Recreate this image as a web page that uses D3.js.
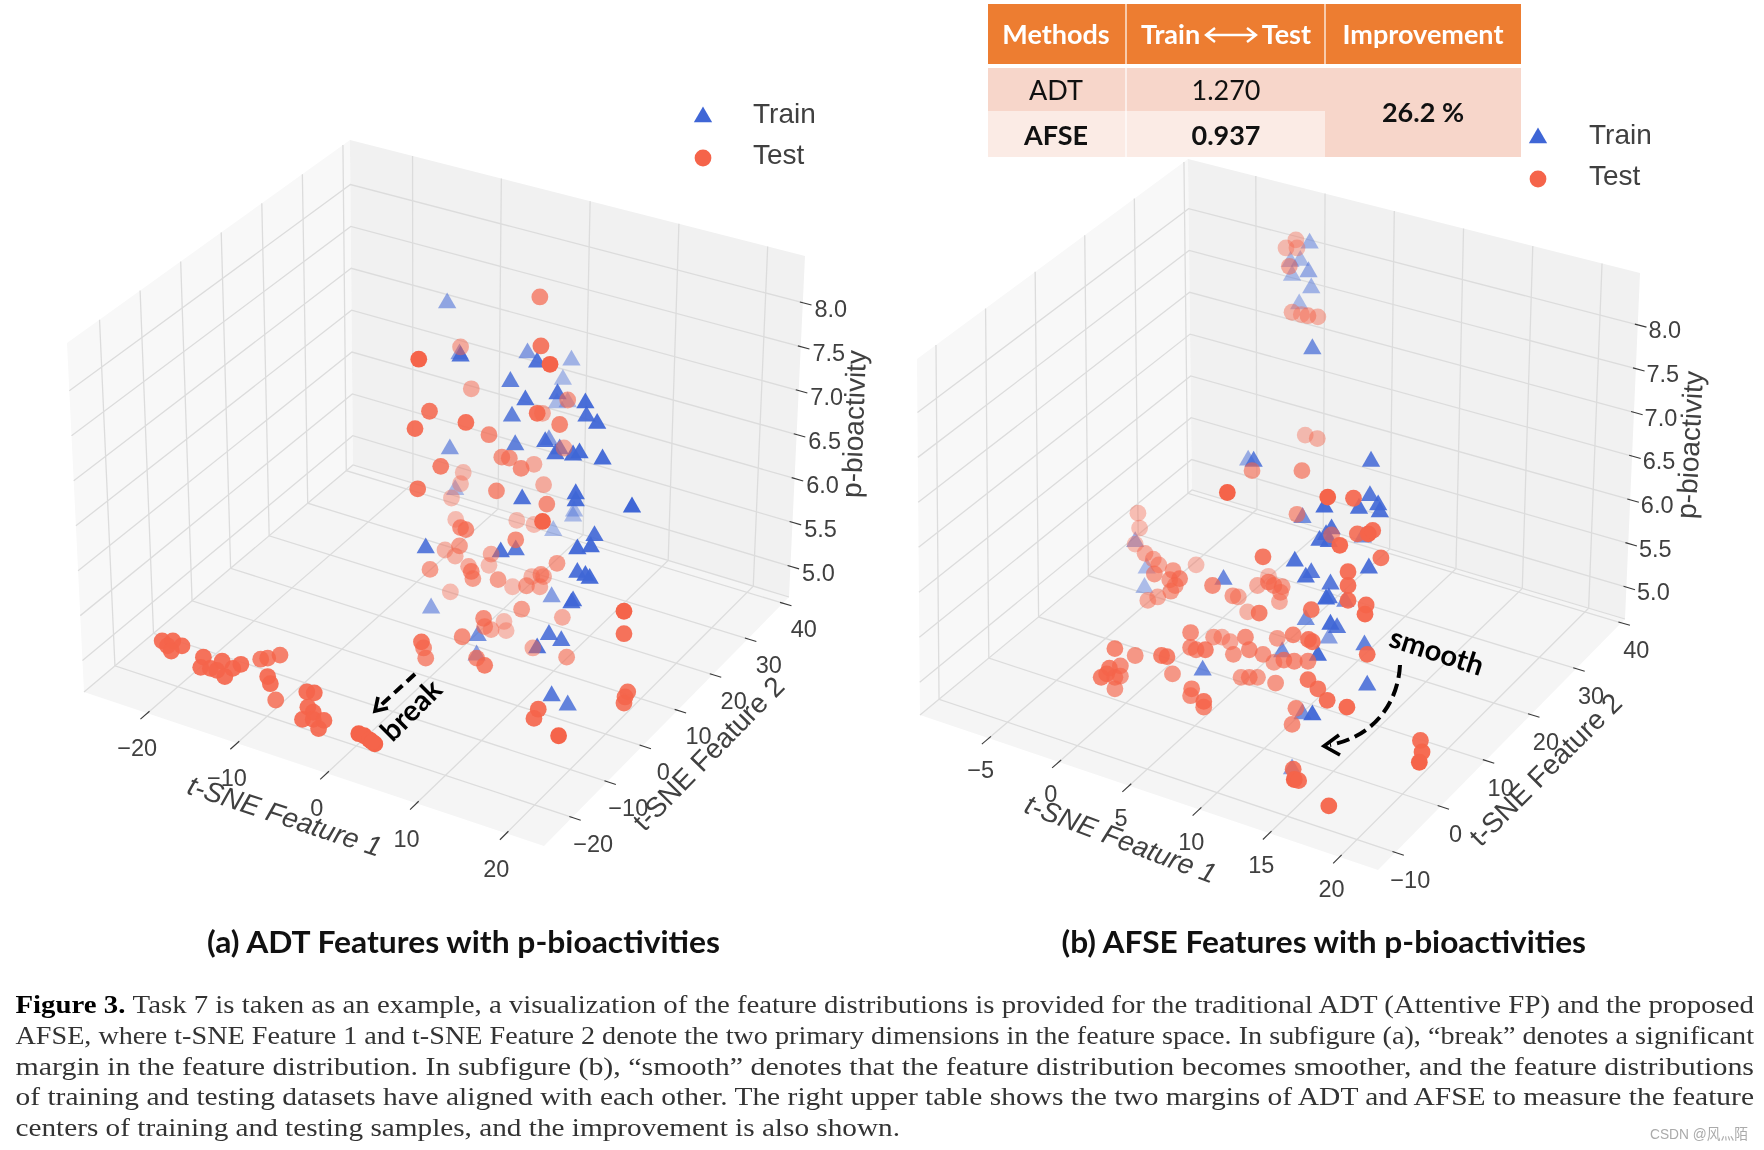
<!DOCTYPE html>
<html><head><meta charset="utf-8">
<style>html,body{margin:0;padding:0;background:#fff}svg{display:block;filter:blur(.45px)}</style>
<script src="https://cdnjs.cloudflare.com/ajax/libs/d3/7.8.5/d3.min.js"></script>
</head><body><svg id="c" width="1764" height="1150"></svg>
<script>
// Points: [position along t-SNE Feature 1 as projected, p-bioactivity as projected, t-SNE Feature 2 depth]
const trainA=[[11,8.02,25],[12.15,7.52,20],[12.25,7.5,-10],[18.5,7.53,20],[19.4,7.44,-10],[22.6,7.46,35],[16.9,7.25,0],[21.8,7.27,40],[21.3,7.13,-10],[23.9,7.04,-15],[18.3,7.07,-10],[21.25,7.04,40],[22.25,7.05,40],[24,6.91,-10],[25,6.84,-15],[17.05,6.91,0],[20.15,6.66,-10],[20.5,6.68,20],[17.35,6.63,0],[11.25,6.59,20],[21.1,6.54,-10],[21.5,6.59,0],[22.75,6.53,-15],[23.35,6.55,-15],[25.5,6.49,-15],[11.75,6.19,40],[23,6.15,-15],[23,6.08,-15],[28.25,6.02,-20],[18,6.1,-10],[22.85,5.98,40],[22.75,5.93,40],[20.9,5.79,40],[24.75,5.74,-10],[9,5.62,-5],[16,5.58,-10],[17.4,5.6,-5],[23.15,5.61,-15],[24.4,5.63,-15],[23.15,5.38,-10],[23.9,5.35,-15],[24.3,5.32,-15],[20.75,5.14,20],[22.75,5.1,-10],[22.6,5.08,-10],[9.5,5.03,25],[13.85,4.76,10],[20.5,4.77,-5],[21.65,4.71,-5],[13.75,4.57,20],[19.4,4.64,-10],[20.75,4.17,-5],[22.25,4.08,0]];
const testA=[[19.65,8.07,10],[19.75,7.59,-5],[12.25,7.58,30],[8.35,7.46,-20],[20.6,7.41,-20],[13.25,7.17,30],[22.25,7.06,20],[9.35,6.95,-5],[19.4,6.93,-10],[19.9,6.93,30],[12.75,6.84,-10],[8,6.78,-10],[21.5,6.82,5],[14.9,6.72,10],[21.9,6.59,30],[16.1,6.5,15],[16.8,6.49,15],[17.9,6.39,10],[19.1,6.43,30],[10.4,6.41,0],[12.5,6.35,40],[12.25,6.24,40],[8.25,6.19,-5],[15.6,6.17,10],[20,6.23,30],[11.4,6.1,40],[20.3,6.04,10],[11.8,5.89,40],[17.5,5.88,40],[19.1,5.84,40],[19.9,5.87,-20],[12.25,5.81,10],[12.75,5.79,10],[17.4,5.69,10],[12.15,5.63,20],[10.8,5.59,35],[11.75,5.53,35],[15.1,5.55,30],[14.9,5.44,40],[9.4,5.4,20],[13,5.43,30],[13.25,5.38,10],[13.4,5.31,20],[21.25,5.46,20],[15.75,5.3,20],[17.1,5.23,40],[18.4,5.24,20],[18.9,5.33,35],[19.75,5.35,20],[20,5.33,30],[19.65,5.23,30],[11.3,5.18,40],[17.95,5.01,20],[27.5,4.99,-20],[21.75,4.93,30],[14.4,4.92,10],[14.5,4.84,20],[16.3,4.89,40],[15.1,4.81,30],[16.5,4.8,40],[12.4,4.74,10],[27.5,4.77,-10],[8.6,4.69,-5],[8.8,4.63,10],[9,4.53,10],[19,4.63,30],[22.15,4.54,20],[13.75,4.53,10],[14.5,4.46,0],[-15.6,4.7,-10],[-15.1,4.65,-10],[-14.6,4.7,-10],[-13.75,4.65,-10],[-14.75,4.6,-10],[-11.75,4.54,-10],[-12,4.44,-10],[-11.1,4.43,-10],[-10,4.5,-10],[-9.75,4.35,-10],[-10.5,4.41,-10],[-9,4.43,-10],[-8.25,4.47,-10],[-6.4,4.52,0],[-5.75,4.53,0],[-4.6,4.56,0],[-5.75,4.35,-10],[-5.5,4.28,-10],[-5,4.12,0],[-2.1,4.2,-10],[-1.4,4.19,-10],[-2,4.05,-10],[-1.5,4,-10],[-2.5,3.93,-10],[-1.5,3.93,-10],[-0.5,3.92,-10],[-1,3.84,-10],[2.75,3.79,-20],[3.25,3.77,-20],[3.75,3.73,-20],[4.25,3.69,-20],[4,3.71,-20],[27.85,4.2,-5],[27.6,4.15,-5],[27.5,4.09,-5],[19.5,4.03,-10],[19.1,3.94,-10],[21.4,3.77,-20]];
const trainB=[[11.25,7.89,35],[9.5,7.73,40],[10.4,7.74,40],[11.15,7.64,30],[9.65,7.61,40],[11.4,7.5,35],[10.3,7.36,40],[11.5,6.97,10],[5.65,6,30],[6.15,5.99,0],[16.85,5.99,-5],[16.75,5.69,-5],[12.6,5.59,-15],[15.75,5.58,-10],[17.5,5.61,-10],[17.65,5.55,-10],[10.6,5.5,10],[13.25,5.4,-10],[12.75,5.35,-10],[12.15,5.3,-10],[13,5.29,-10],[16.1,5.33,10],[-4.65,5.29,30],[9.9,5.12,-10],[-3.6,5.06,40],[16.65,5.06,-10],[11.4,5.02,-5],[10.9,4.98,-10],[3.4,4.96,5],[-3.8,4.89,40],[13.15,4.92,-5],[12.75,4.79,-15],[13,4.8,-10],[14.5,4.77,10],[10.9,4.61,10],[13.15,4.57,-15],[13.75,4.54,-5],[13,4.45,20],[16.25,4.39,0],[8.75,4.33,10],[12,4.3,-15],[1.5,4.17,5],[16.5,4.04,-5],[10.6,3.79,10],[11.5,3.78,-15],[9.65,3.31,20]];
const testB=[[10,7.91,40],[9.1,7.84,40],[10.1,7.84,40],[9.4,7.68,30],[9.65,7.28,35],[10.5,7.26,40],[11.1,7.25,30],[12,7.24,35],[10.85,6.21,40],[11.95,6.18,35],[10.55,5.9,15],[6,5.9,20],[3.75,5.71,-20],[12.9,5.67,-20],[15.25,5.66,-10],[10.1,5.52,20],[-4.4,5.53,40],[-4.25,5.4,40],[-4.65,5.26,40],[-3.75,5.18,30],[-3,5.13,30],[-2.5,5.08,30],[0.9,5.08,40],[7,5.15,-5],[-2.9,5,20],[-1.2,5.03,20],[-1.5,4.95,20],[-0.6,4.96,10],[-1,4.9,20],[-1.4,4.85,20],[2.4,4.9,10],[-3.5,4.77,30],[-2.6,4.8,30],[4.75,4.8,30],[4.25,4.81,20],[6.5,4.9,30],[7.5,4.93,10],[8,4.9,15],[8.75,4.89,20],[7.5,4.98,40],[8.6,4.84,20],[8.5,4.76,30],[5.6,4.67,35],[6.65,4.66,0],[14.75,5.02,-10],[14.75,4.9,-10],[14.75,4.77,-10],[16.4,4.73,-10],[16.3,4.65,-15],[11.4,4.69,-5],[17.75,5.14,-5],[15.6,5.35,-5],[16.6,5.35,-20],[17,5.38,-10],[14,5.25,-15],[13.25,5.34,20],[0.4,4.49,10],[0.4,4.36,10],[2.5,4.45,20],[3.25,4.45,30],[4,4.41,25],[5.4,4.45,10],[4.3,4.3,15],[1.75,4.34,0],[0.9,4.34,10],[5.75,4.34,10],[7,4.3,15],[8.3,4.44,20],[9.75,4.47,5],[11.15,4.43,-5],[11.5,4.41,-5],[8,4.23,20],[8.9,4.25,10],[9.85,4.24,10],[11.1,4.24,10],[16.5,4.3,-10],[5,4.1,20],[5.75,4.1,15],[6.5,4.1,20],[8.15,4.05,15],[11.1,4.08,-5],[12,4,-5],[12.85,3.9,-10],[14.65,3.84,-15],[10,3.83,10],[9.65,3.69,10],[-6.5,4.35,5],[-4.65,4.29,15],[-2.25,4.29,0],[-1.75,4.28,0],[-1.25,4.13,15],[-6,4.2,10],[-7,4.18,0],[-7.25,4.13,0],[-7.75,4.1,0],[-6.5,4.1,10],[-6,4.11,15],[-6.5,4,15],[0.5,4,5],[0.4,3.94,10],[1.6,3.89,-5],[1.6,3.84,5],[21.35,3.55,-10],[21.5,3.45,-15],[21.25,3.36,-20],[9.75,3.3,-5],[9.85,3.21,-20],[10.25,3.2,-10],[13,2.98,-15]];

const ticksF1A=[-20,-10,0,10,20], ticksF2A=[-20,-10,0,10,20,30,40];
const ticksF1B=[-5,0,5,10,15,20], ticksF2B=[-10,0,10,20,30,40];
const ticksP=[5,5.5,6,6.5,7,7.5,8];
const tableHead=["Methods","Improvement"];
const tableRows=[["ADT","1.270"],["AFSE","0.937"]];
const improvement="26.2 %";
const legendNames=["Train","Test"];
const caption=[
 "Task 7 is taken as an example, a visualization of the feature distributions is provided for the traditional ADT (Attentive FP) and the proposed",
 "AFSE, where t-SNE Feature 1 and t-SNE Feature 2 denote the two primary dimensions in the feature space. In subfigure (a), “break” denotes a significant",
 "margin in the feature distribution. In subfigure (b), “smooth” denotes that the feature distribution becomes smoother, and the feature distributions",
 "of training and testing datasets have aligned with each other. The right upper table shows the two margins of ADT and AFSE to measure the feature",
 "centers of training and testing samples, and the improvement is also shown."];

const svg=d3.select("#c");
const SANS='"Liberation Sans",Arial,sans-serif', LATO='Lato,"Open Sans",sans-serif';
const TXT="#404040", BLUE="#3f66d6", RED="#f5644a";
const lerp=(a,b,t)=>[a[0]+(b[0]-a[0])*t,a[1]+(b[1]-a[1])*t];
const dPath=d3.line();

function panel(o){
  const g=svg.append("g");
  const {L,F,R,B,TL,TB,TR}=o;
  const at=(a,b,t)=>lerp(a,b,t);
  const tx=d3.scaleLinear().domain(o.xDom).range(o.xT), ty=d3.scaleLinear().domain(o.yDom).range(o.yT), tz=d3.scaleLinear().domain([5,8]).range(o.zT);
  const poly=(pts,c)=>g.append("path").attr("d",dPath(pts)+"Z").attr("fill",c);
  poly([L,F,R,B],"#f5f5f5"); poly([L,B,TB,TL],"#f8f8f8"); poly([B,R,TR,TB],"#f1f1f1");
  const grid=(pts)=>g.append("path").attr("d",dPath(pts)).attr("fill","none").attr("stroke","#dcdcdc").attr("stroke-width",1.3);
  const tick=(p,q)=>{const dx=p[0]-q[0],dy=p[1]-q[1],n=Math.hypot(dx,dy);
    g.append("line").attr("x1",p[0]-dx/n*3).attr("y1",p[1]-dy/n*3).attr("x2",p[0]+dx/n*9).attr("y2",p[1]+dy/n*9).attr("stroke","#3a3a3a").attr("stroke-width",1.1);};
  const label=(p,dx,dy,s)=>g.append("text").attr("x",p[0]+dx).attr("y",p[1]+dy).attr("text-anchor","middle").attr("dominant-baseline","middle")
     .attr("font-family",SANS).attr("font-size",23.5).attr("fill",TXT).text(s);
  const fmt=v=>String(v).replace("-","\u2212");
  grid([L,B,R]);
  o.xTicks.forEach(v=>{const t=tx(v),a=at(L,F,t),b=at(B,R,t),c=at(TB,TR,t);grid([a,b,c]);tick(a,b);label(a,o.xOff[0],o.xOff[1],fmt(v));});
  o.yTicks.forEach(v=>{const t=ty(v),a=at(F,R,t),b=at(L,B,t),c=at(TL,TB,t);grid([a,b,c]);tick(a,b);label(a,o.yOff[0],o.yOff[1],fmt(v));});
  ticksP.forEach(v=>{const t=tz(v),a=at(L,TL,t),b=at(B,TB,t),c=at(R,TR,t);grid([a,b,c]);
    tick(c,b);label(c,o.zOff[0],o.zOff[1],v.toFixed(1));});

  const axisLabel=(p,rot,s,it,fs)=>g.append("text").attr("transform",`translate(${p[0]},${p[1]}) rotate(${rot})`).attr("text-anchor","middle").attr("dominant-baseline","middle")
     .attr("font-family",SANS).attr("font-size",fs).attr("font-style",it?"italic":"normal").attr("fill",TXT).text(s);
  axisLabel(o.lab1[0],o.lab1[1],"t-SNE Feature 1",true,28);
  axisLabel(o.lab2[0],o.lab2[1],"t-SNE Feature 2",false,28);
  axisLabel(o.lab3[0],o.lab3[1],"p-bioactivity",false,28);

  const sx=d3.scaleLinear().domain([0,20]).range(o.sx), sy=d3.scaleLinear().domain([3,8]).range(o.sy);
  const depth=d3.scaleLinear().domain([-20,40]).range([1,.4]);
  const tri=d3.symbol().type(d3.symbolTriangle).size(145)();
  g.append("g").selectAll("path").data(o.train).join("path").attr("d",tri)
    .attr("transform",d=>`translate(${sx(d[0])},${sy(d[1])+1})`).attr("fill",BLUE).attr("fill-opacity",d=>depth(d[2]));
  g.append("g").selectAll("circle").data(o.test).join("circle")
    .attr("cx",d=>sx(d[0])).attr("cy",d=>sy(d[1])).attr("r",8.4).attr("fill",RED).attr("fill-opacity",d=>depth(d[2]));

  // legend
  const lg=g.append("g");
  legendNames.forEach((n,i)=>{
    const y=o.leg.y[i];
    if(i==0) lg.append("path").attr("d",d3.symbol().type(d3.symbolTriangle).size(145)()).attr("transform",`translate(${o.leg.mx},${y})`).attr("fill",BLUE);
    else lg.append("circle").attr("cx",o.leg.mx).attr("cy",y).attr("r",8.4).attr("fill",RED);
    lg.append("text").attr("x",o.leg.tx).attr("y",o.leg.by[i]).attr("font-family",SANS).attr("font-size",28).attr("fill",TXT).text(n);
  });
  // title
  g.append("text").attr("x",o.title[0]).attr("y",953).attr("font-family",LATO).attr("font-weight",700).attr("font-size",30).attr("fill","#111")
    .attr("textLength",o.title[1]-o.title[0]).attr("lengthAdjust","spacingAndGlyphs").text(o.title[2]);
}

panel({
  L:[84,692],F:[544,846],R:[789,597],B:[353,465],TL:[67,343],TB:[350,140],TR:[805,256],
  xDom:[-20,20],xT:[.1375,.918],yDom:[-20,40],yT:[.115,.975],zT:[.09,.863],
  xTicks:ticksF1A,yTicks:ticksF2A,xOff:[-10,37],yOff:[21,28],zOff:[28,8],
  lab1:[[284,818],18.3],lab2:[[710,755],-45.6],lab3:[[856,424],-88],
  sx:[329.3,543.6],sy:[814.3,304.1],train:trainA,test:testA,
  leg:{mx:703,tx:753,y:[117,158],by:[123,164]},
  title:[207,720,"(a) ADT Features with p-bioactivities"]
});
panel({
  L:[920,715],F:[1378,870],R:[1625,619],B:[1192,490],TL:[917,359],TB:[1188,159],TR:[1640,273],
  xDom:[-5,20],xT:[.15,.916],yDom:[-10,40],yT:[.07,.985],zT:[.092,.85],
  xTicks:ticksF1B,yTicks:ticksF2B,xOff:[-8,34],yOff:[15,29],zOff:[27,7],
  lab1:[[1120,841],20.8],lab2:[[1547,771],-45],lab3:[[1692,445],-87],
  sx:[1186.2,1405.6],sy:[803.6,229.6],train:trainB,test:testB,
  leg:{mx:1538,tx:1589,y:[138,179],by:[144,185]},
  title:[1061.5,1586,"(b) AFSE Features with p-bioactivities"]
});

// table
const tb=svg.append("g");
const cols=[988,1126,1325,1521];
const rect=(x0,y0,x1,y1,c)=>tb.append("rect").attr("x",x0).attr("y",y0).attr("width",x1-x0).attr("height",y1-y0).attr("fill",c);
rect(cols[0],4,cols[3],64,"#ed7d31");
rect(cols[0],68,cols[2],111,"#f7d6ca");
rect(cols[0],111,cols[2],157,"#fbebe5");
rect(cols[2],68,cols[3],157,"#f7d6ca");
[cols[1],cols[2]].forEach(x=>tb.append("line").attr("x1",x).attr("x2",x).attr("y1",4).attr("y2",64).attr("stroke","#fff").attr("stroke-width",1.2));
tb.append("line").attr("x1",cols[1]).attr("x2",cols[1]).attr("y1",68).attr("y2",157).attr("stroke","#fff").attr("stroke-width",1.2);
const cell=(x,y,s,bold,col,fs,anchor)=>tb.append("text").attr("x",x).attr("y",y).attr("text-anchor",anchor||"middle").attr("font-family",LATO).attr("font-weight",bold?700:400).attr("font-size",fs||27).attr("fill",col).text(s);
cell(1056,44,tableHead[0],true,"#fff",27);
cell(1423,44,tableHead[1],true,"#fff",27);
cell(1141,44,legendNames[0],true,"#fff",27,"start");
cell(1311,44,legendNames[1],true,"#fff",27,"end");
tb.append("path").attr("d","M1207,35H1255M1215,28L1206,35L1215,42M1247,28L1256,35L1247,42").attr("fill","none").attr("stroke","#fff").attr("stroke-width",2.4);
tableRows.forEach((r,i)=>{
  const y=[100,145][i], b=i==1;
  cell(1056,y,r[0],b,"#111",27); cell(1226,y,r[1],b,"#111",27);
});
cell(1423,122,improvement,true,"#111",27);

// annotations
const ann=svg.append("g");
ann.append("path").attr("d","M415,674L380,706").attr("stroke","#000").attr("stroke-width",4).attr("stroke-dasharray","11 6").attr("fill","none");
ann.append("path").attr("d","M388,708L375,711L378,697").attr("stroke","#000").attr("stroke-width",3.6).attr("fill","none");
ann.append("text").attr("transform","translate(413,712) rotate(-45)").attr("text-anchor","middle").attr("dominant-baseline","middle").attr("font-family",LATO).attr("font-weight",700).attr("font-size",29).attr("fill","#000").text("break");
ann.append("path").attr("d","M1400,665C1398,705 1372,737 1330,745").attr("stroke","#000").attr("stroke-width",4).attr("stroke-dasharray","13 6").attr("fill","none");
ann.append("path").attr("d","M1339,735L1324,746L1340,755").attr("stroke","#000").attr("stroke-width",3.6).attr("fill","none");
ann.append("text").attr("transform","translate(1436,654) rotate(18)").attr("text-anchor","middle").attr("dominant-baseline","middle").attr("font-family",LATO).attr("font-weight",700).attr("font-size",29).attr("fill","#000").text("smooth");

// caption
const cap=svg.append("g").attr("font-family",'"Liberation Serif",serif').attr("font-size",26).attr("fill","#333");
const capY=[1013,1044,1075,1105,1136];
caption.forEach((s,i)=>{
  const t=cap.append("text").attr("x",15.5).attr("y",capY[i]).attr("lengthAdjust","spacingAndGlyphs")
    .attr("textLength",i==4?884.5:1738.5);
  if(i==0){t.append("tspan").attr("font-weight",700).attr("fill","#000").text("Figure 3. ");}
  t.append("tspan").text(s);
});
svg.append("text").attr("x",1650).attr("y",1139).attr("font-family",'"Liberation Sans","Noto Sans CJK SC",sans-serif').attr("font-size",15).attr("fill","#aaa").attr("textLength",98).attr("lengthAdjust","spacingAndGlyphs").text("CSDN @风灬陌");
</script></body></html>
